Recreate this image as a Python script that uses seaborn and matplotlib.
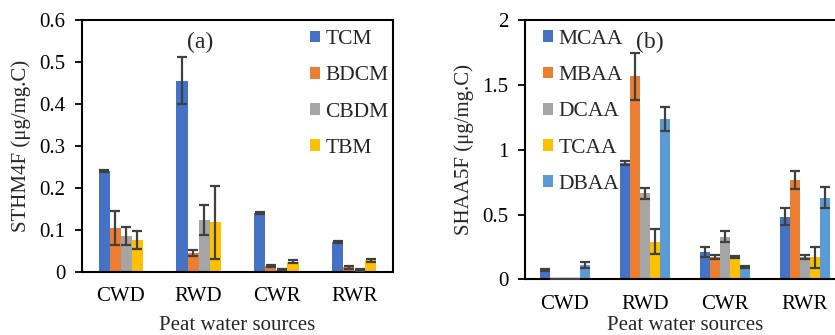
import matplotlib
matplotlib.use("Agg")
import matplotlib.pyplot as plt
import seaborn as sns
import pandas as pd
from matplotlib.patches import Rectangle
from matplotlib.ticker import FuncFormatter

# ---------------- data ----------------
sources = ["CWD", "RWD", "CWR", "RWR"]

thm_names = ["TCM", "BDCM", "CBDM", "TBM"]
tcm = [0.241, 0.456, 0.140, 0.071]
tcm_err = [0.003, 0.057, 0.003, 0.003]
bdcm = [0.105, 0.045, 0.014, 0.011]
bdcm_err = [0.040, 0.008, 0.003, 0.003]
cbdm = [0.086, 0.124, 0.006, 0.005]
cbdm_err = [0.021, 0.035, 0.002, 0.002]
tbm = [0.076, 0.119, 0.025, 0.028]
tbm_err = [0.021, 0.087, 0.003, 0.003]

haa_names = ["MCAA", "MBAA", "DCAA", "TCAA", "DBAA"]
mcaa = [0.072, 0.900, 0.213, 0.483]
mcaa_err = [0.006, 0.015, 0.040, 0.065]
mbaa = [0.005, 1.565, 0.175, 0.768]
mbaa_err = [0.0, 0.180, 0.015, 0.070]
dcaa = [0.002, 0.663, 0.330, 0.173]
dcaa_err = [0.0, 0.040, 0.043, 0.012]
tcaa = [0.004, 0.292, 0.173, 0.170]
tcaa_err = [0.0, 0.095, 0.008, 0.082]
dbaa = [0.113, 1.236, 0.098, 0.630]
dbaa_err = [0.022, 0.095, 0.008, 0.080]

thm_ticks = [0, 0.1, 0.2, 0.3, 0.4, 0.5, 0.6]
haa_ticks = [0, 0.5, 1, 1.5, 2]

# ---------------- style ----------------
sns.set_style("white")
plt.rcParams["font.family"] = ["Liberation Serif", "DejaVu Serif"]

C_BLUE = "#4472C4"
C_ORANGE = "#ED7D31"
C_GRAY = "#A5A5A5"
C_GOLD = "#FFC000"
C_LBLUE = "#5B9BD5"
ERR_C = "#404040"
FS = 15
LFS = 15.5


def long_df(names, series):
    rows = []
    for name, vals in zip(names, series):
        for s, v in zip(sources, vals):
            rows.append({"source": s, "compound": name, "value": v})
    return pd.DataFrame(rows)


def panel(ax, names, series, errs, palette, width, ymax, ticks, ylabel, tag,
          tag_xy, leg_xy, xlabelpad):
    df = long_df(names, series)
    sns.barplot(data=df, x="source", y="value", hue="compound", order=sources,
                hue_order=names, palette=palette, width=width, saturation=1,
                errorbar=None, linewidth=0, legend=False, ax=ax)
    for cont, e in zip(ax.containers, errs):
        xs = [b.get_x() + b.get_width() / 2 for b in cont]
        ys = [b.get_height() for b in cont]
        ax.errorbar(xs, ys, yerr=e, fmt="none", ecolor=ERR_C, elinewidth=1.6,
                    capsize=3.6, capthick=1.6, zorder=5)
    ax.set_xlim(-0.5, 3.5)
    ax.set_ylim(0, ymax)
    ax.set_yticks(ticks)
    ax.yaxis.set_major_formatter(FuncFormatter(lambda v, p: f"{v:g}"))
    for sp in ax.spines.values():
        sp.set_visible(True)
        sp.set_color("black")
        sp.set_linewidth(1.5)
    ax.tick_params(axis="y", direction="out", left=True, length=5, width=1.3,
                   pad=7, labelsize=FS, colors="black")
    ax.tick_params(axis="x", length=0, pad=11, labelsize=FS, colors="black")
    ax.set_xlabel("Peat water sources", fontsize=FS, labelpad=xlabelpad)
    ax.set_ylabel(ylabel, fontsize=FS, labelpad=6)
    ax.text(tag_xy[0], tag_xy[1], tag, transform=ax.transAxes, fontsize=17,
            ha="center", va="center")
    handles = [Rectangle((0, 0), 1, 1, facecolor=c, edgecolor="none")
               for c in palette]
    ax.legend(handles, names, loc="upper left", bbox_to_anchor=leg_xy,
              frameon=False, fontsize=LFS, handlelength=0.47, handleheight=0.47,
              handletextpad=0.25, labelspacing=0.8, borderpad=0,
              borderaxespad=0)


fig = plt.figure(figsize=(8.35, 3.35), dpi=100)
ax1 = fig.add_axes([0.0982, 0.188, 0.3725, 0.752])
ax2 = fig.add_axes([0.6287, 0.166, 0.383, 0.774])

panel(ax1, thm_names, [tcm, bdcm, cbdm, tbm],
      [tcm_err, bdcm_err, cbdm_err, tbm_err],
      [C_BLUE, C_ORANGE, C_GRAY, C_GOLD], 0.57, 0.6, thm_ticks,
      "STHM4F (μg/mg.C)", "(a)", (0.38, 0.91), (0.733, 0.96), 7)

panel(ax2, haa_names, [mcaa, mbaa, dcaa, tcaa, dbaa],
      [mcaa_err, mbaa_err, dcaa_err, tcaa_err, dbaa_err],
      [C_BLUE, C_ORANGE, C_GRAY, C_GOLD, C_LBLUE], 0.625, 2, haa_ticks,
      "SHAA5F (μg/mg.C)", "(b)", (0.39, 0.912), (0.056, 0.962), 1.5)

fig.savefig("out.png", dpi=100)
